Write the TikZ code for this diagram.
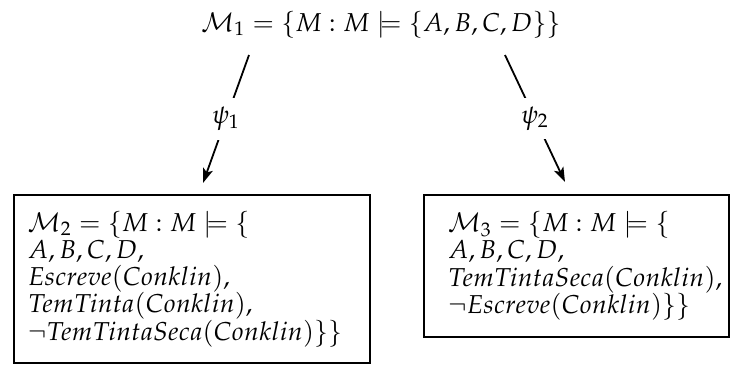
\documentclass[tikz,border=0pt]{standalone}
\usepackage{mathpazo}
\usetikzlibrary{arrows.meta}
\tikzset{
  txt/.style={font=\fontsize{11.5}{12.1}\selectfont},
  boxnode/.style={txt, draw, line width=0.8pt, align=left, anchor=north west, inner ysep=6.5pt},
  arr/.style={line width=0.8pt, -{Stealth[length=6.5pt,width=4.5pt,inset=1.5pt]}},
  lab/.style={txt, fill=white, inner sep=4pt}
}
\begin{document}
\begin{tikzpicture}[x=0.4444pt,y=-0.4444pt]
\useasboundingbox (0,0) rectangle (730,364);
\node[txt, anchor=base] (m1) at (381,31) {$\mathcal{M}_1 = \{M : M \models \{A, B, C, D\}\}$};
\node[boxnode, text width=145.8pt, inner xsep=6.2pt, minimum height=74.7pt] (m2) at (13,194)
  {$\mathcal{M}_2 = \{M : M \models \{$\\
   $A, B, C, D,$\\
   $Escreve(Conklin),$\\
   $TemTinta(Conklin),$\\
   $\neg TemTintaSeca(Conklin)\}\}$};
\node[boxnode, text width=114.2pt, inner xsep=10.7pt, minimum height=63pt] (m3) at (423,194)
  {$\mathcal{M}_3 = \{M : M \models \{$\\
   $A, B, C, D,$\\
   $TemTintaSeca(Conklin),$\\
   $\neg Escreve(Conklin)\}\}$};
\coordinate (a1s) at (249,55);
\coordinate (a1e) at (203,183);
\coordinate (a2s) at (505,55);
\coordinate (a2e) at (565,182);
\draw[arr] (a1s) -- node[lab] (p1) {$\psi_1$} (a1e);
\draw[arr] (a2s) -- node[lab] (p2) {$\psi_2$} (a2e);
\end{tikzpicture}
\end{document}
